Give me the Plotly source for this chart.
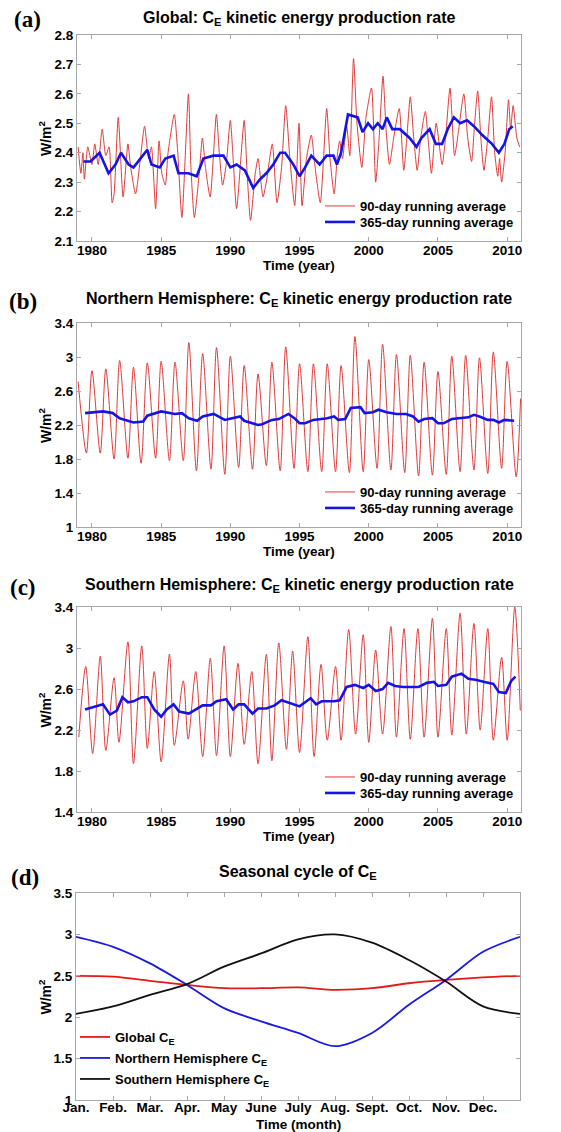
"""
C_E kinetic energy production rate: global, NH, SH and seasonal cycle
"""
import plotly.graph_objs as go

# ---- (a) Global, 90-day and 365-day running averages (W/m^2) ----
glob_t90 = [1979.0, 1979.2, 1979.35, 1979.45, 1979.7, 1980.0, 1980.2, 1980.45, 1980.74, 1981.0,
            1981.24, 1981.46, 1981.6, 1981.9, 1982.25, 1982.6, 1982.8, 1983.15, 1983.5, 1983.8,
            1984.1, 1984.3, 1984.6, 1984.85, 1985.05, 1985.3, 1985.5, 1985.95, 1986.2, 1986.5,
            1986.97, 1987.15, 1987.4, 1987.75, 1987.98, 1988.2, 1988.54, 1988.99, 1989.2, 1989.44,
            1989.7, 1990.0, 1990.2, 1990.45, 1991.0, 1991.2, 1991.46, 1991.8, 1992.0, 1992.36,
            1992.6, 1993.03, 1993.37, 1993.7, 1994.0, 1994.3, 1994.65, 1994.96, 1995.18, 1995.5,
            1995.85, 1996.1, 1996.5, 1996.96, 1997.2, 1997.5, 1997.75, 1997.9, 1998.1, 1998.4,
            1998.63, 1998.9, 1999.15, 1999.5, 1999.8, 2000.2, 2000.5, 2000.75, 2001.03, 2001.25,
            2001.5, 2001.8, 2002.2, 2002.53, 2002.75, 2003.0, 2003.25, 2003.5, 2003.75, 2004.09,
            2004.3, 2004.53, 2004.87, 2005.3, 2005.55, 2005.87, 2006.2, 2006.5, 2006.87, 2007.15,
            2007.43, 2007.65, 2007.87, 2008.1, 2008.32, 2008.6, 2008.87, 2009.1, 2009.32, 2009.45,
            2009.6, 2009.85, 2010.1, 2010.25, 2010.43, 2010.7, 2010.9]
glob_v90 = [2.42, 2.33, 2.40, 2.31, 2.42, 2.36, 2.43, 2.36, 2.48, 2.39,
            2.42, 2.23, 2.26, 2.52, 2.25, 2.43, 2.35, 2.26, 2.38, 2.49,
            2.38, 2.42, 2.21, 2.44, 2.33, 2.29, 2.40, 2.53, 2.40, 2.18,
            2.60, 2.35, 2.18, 2.33, 2.45, 2.35, 2.25, 2.53, 2.40, 2.29,
            2.36, 2.51, 2.38, 2.21, 2.51, 2.34, 2.17, 2.33, 2.38, 2.25,
            2.30, 2.43, 2.23, 2.35, 2.56, 2.38, 2.22, 2.50, 2.22, 2.38,
            2.46, 2.36, 2.23, 2.55, 2.38, 2.26, 2.40, 2.44, 2.38, 2.49,
            2.39, 2.72, 2.50, 2.35, 2.52, 2.62, 2.30, 2.45, 2.66, 2.48,
            2.36, 2.45, 2.55, 2.34, 2.45, 2.59, 2.45, 2.34, 2.45, 2.54,
            2.44, 2.33, 2.50, 2.36, 2.45, 2.62, 2.39, 2.48, 2.60, 2.45,
            2.37, 2.50, 2.61, 2.45, 2.34, 2.45, 2.59, 2.40, 2.32, 2.38,
            2.30, 2.40, 2.58, 2.48, 2.56, 2.45, 2.42]
glob_t365 = [1979.4, 1979.9, 1980.55, 1981.2, 1981.7, 1982.1, 1982.65, 1983.0, 1983.5, 1984.0,
             1984.3, 1984.9, 1985.3, 1985.9, 1986.25, 1986.97, 1987.57, 1988.05, 1988.77, 1989.5,
             1990.0, 1990.45, 1991.05, 1991.65, 1992.15, 1992.6, 1993.1, 1993.6, 1993.95, 1994.55,
             1995.0, 1995.4, 1995.85, 1996.45, 1996.95, 1997.45, 1997.7, 1998.0, 1998.5, 1999.2,
             1999.55, 1999.95, 2000.3, 2000.65, 2001.0, 2001.3, 2001.7, 2002.25, 2002.95, 2003.45,
             2003.8, 2004.4, 2004.85, 2005.3, 2005.7, 2006.15, 2006.6, 2007.1, 2007.6, 2008.2,
             2008.9, 2009.4, 2009.8, 2010.15, 2010.4]
glob_v365 = [2.37, 2.37, 2.40, 2.33, 2.36, 2.40, 2.36, 2.35, 2.38, 2.41,
             2.36, 2.35, 2.38, 2.39, 2.33, 2.33, 2.32, 2.38, 2.39, 2.39,
             2.35, 2.36, 2.34, 2.28, 2.31, 2.33, 2.36, 2.40, 2.40, 2.36,
             2.32, 2.35, 2.39, 2.36, 2.39, 2.39, 2.36, 2.40, 2.53, 2.52,
             2.47, 2.50, 2.48, 2.50, 2.48, 2.52, 2.48, 2.48, 2.45, 2.42,
             2.45, 2.48, 2.43, 2.43, 2.48, 2.52, 2.50, 2.51, 2.49, 2.46,
             2.43, 2.40, 2.43, 2.48, 2.49]

# ---- (b) Northern Hemisphere ----
nh_t90 = [1979.0, 1979.6, 1980.0, 1980.6, 1981.0, 1981.6, 1982.0, 1982.6, 1983.0, 1983.55,
          1984.0, 1984.6, 1985.0, 1985.6, 1986.0, 1986.6, 1987.0, 1987.55, 1988.0, 1988.6,
          1989.0, 1989.6, 1990.0, 1990.6, 1991.0, 1991.6, 1992.0, 1992.6, 1993.0, 1993.6,
          1994.0, 1994.6, 1995.0, 1995.6, 1996.0, 1996.6, 1997.0, 1997.6, 1998.0, 1998.6,
          1999.0, 1999.6, 2000.0, 2000.6, 2001.0, 2001.6, 2002.0, 2002.6, 2003.0, 2003.6,
          2004.0, 2004.6, 2005.0, 2005.6, 2006.0, 2006.6, 2007.0, 2007.6, 2008.0, 2008.6,
          2009.0, 2009.6, 2010.0, 2010.65, 2010.97]
nh_v90 = [2.71, 1.87, 2.84, 1.87, 2.86, 1.80, 2.96, 1.81, 2.88, 1.75,
          2.93, 1.81, 2.95, 1.78, 2.94, 1.78, 3.17, 1.66, 3.04, 1.68,
          3.11, 1.62, 3.01, 1.70, 2.90, 1.68, 2.80, 1.72, 2.94, 1.66,
          3.12, 1.69, 2.92, 1.65, 2.92, 1.65, 2.92, 1.65, 2.90, 1.64,
          3.24, 1.65, 2.97, 1.69, 3.15, 1.67, 3.03, 1.64, 3.02, 1.60,
          2.94, 1.61, 2.83, 1.62, 3.01, 1.65, 3.02, 1.67, 2.99, 1.63,
          3.06, 1.69, 2.95, 1.59, 2.51]
nh_t365 = [1979.5, 1980.2, 1980.8, 1981.5, 1982.0, 1983.0, 1983.7, 1984.0, 1985.0, 1986.0,
           1986.5, 1987.0, 1987.6, 1988.0, 1988.8, 1989.6, 1990.3, 1990.7, 1991.0, 1992.0,
           1992.3, 1993.0, 1993.5, 1994.2, 1994.7, 1995.0, 1995.4, 1996.0, 1997.0, 1997.5,
           1997.8, 1998.3, 1998.7, 1999.4, 1999.7, 2000.3, 2000.7, 2001.3, 2002.0, 2002.7,
           2003.2, 2003.6, 2004.0, 2004.6, 2005.0, 2005.4, 2006.0, 2006.7, 2007.2, 2007.6,
           2008.0, 2008.6, 2009.0, 2009.4, 2009.8, 2010.5]
nh_v365 = [2.34, 2.35, 2.36, 2.34, 2.28, 2.23, 2.24, 2.31, 2.36, 2.33,
           2.34, 2.28, 2.25, 2.30, 2.33, 2.26, 2.29, 2.30, 2.25, 2.20,
           2.21, 2.26, 2.27, 2.33, 2.27, 2.22, 2.22, 2.26, 2.28, 2.30,
           2.26, 2.27, 2.40, 2.41, 2.34, 2.35, 2.38, 2.35, 2.33, 2.33,
           2.30, 2.24, 2.27, 2.28, 2.22, 2.22, 2.27, 2.28, 2.29, 2.32,
           2.30, 2.26, 2.26, 2.23, 2.26, 2.25]

# ---- (c) Southern Hemisphere ----
sh_t90 = [1979.05, 1979.55, 1980.05, 1980.6, 1981.0, 1981.6, 1981.95, 1982.6, 1983.0, 1983.6,
          1984.0, 1984.5, 1985.0, 1985.6, 1985.95, 1986.6, 1986.95, 1987.5, 1988.0, 1988.55,
          1989.0, 1989.55, 1990.0, 1990.55, 1991.0, 1991.55, 1992.0, 1992.6, 1993.0, 1993.5,
          1994.05, 1994.5, 1995.0, 1995.6, 1996.05, 1996.55, 1997.0, 1997.6, 1998.0, 1998.55,
          1999.05, 1999.6, 2000.0, 2000.5, 2001.0, 2001.6, 2002.0, 2002.55, 2003.0, 2003.55,
          2004.0, 2004.6, 2005.0, 2005.6, 2006.0, 2006.6, 2007.05, 2007.6, 2008.05, 2008.6,
          2009.0, 2009.6, 2010.0, 2010.55, 2010.95]
sh_v90 = [2.13, 2.82, 1.97, 2.92, 2.00, 2.71, 2.08, 3.06, 1.87, 3.02,
          2.02, 2.77, 1.89, 2.94, 2.05, 2.68, 2.11, 2.77, 1.94, 2.90,
          1.95, 3.02, 1.94, 2.85, 2.06, 2.77, 1.87, 2.94, 1.90, 3.05,
          2.01, 2.97, 1.98, 3.11, 1.94, 2.84, 2.10, 2.82, 2.10, 3.18,
          2.16, 3.13, 2.08, 2.98, 2.16, 3.21, 2.13, 3.19, 2.11, 3.19,
          2.13, 3.29, 2.13, 3.19, 2.15, 3.34, 2.16, 3.24, 2.20, 3.19,
          2.10, 2.91, 2.10, 3.40, 2.39]
sh_t365 = [1979.5, 1980.3, 1980.8, 1981.3, 1981.8, 1982.2, 1982.6, 1983.0, 1983.6, 1984.0,
           1984.5, 1985.0, 1985.4, 1985.9, 1986.3, 1987.0, 1987.5, 1988.0, 1988.6, 1989.0,
           1989.7, 1990.2, 1990.6, 1991.0, 1991.6, 1992.0, 1992.6, 1993.2, 1993.7, 1994.3,
           1995.0, 1995.5, 1995.8, 1996.2, 1996.6, 1997.5, 1997.9, 1998.4, 1999.0, 1999.6,
           2000.0, 2000.5, 2001.0, 2001.4, 2001.9, 2002.5, 2003.0, 2003.6, 2004.2, 2004.7,
           2005.0, 2005.6, 2006.0, 2006.7, 2007.2, 2007.7, 2008.3, 2009.0, 2009.4, 2009.9,
           2010.3, 2010.6]
sh_v365 = [2.40, 2.43, 2.45, 2.35, 2.39, 2.52, 2.47, 2.48, 2.52, 2.52,
           2.40, 2.33, 2.40, 2.45, 2.38, 2.36, 2.40, 2.44, 2.44, 2.48,
           2.50, 2.40, 2.45, 2.45, 2.36, 2.41, 2.41, 2.44, 2.49, 2.46,
           2.43, 2.48, 2.51, 2.45, 2.48, 2.48, 2.49, 2.62, 2.64, 2.61,
           2.64, 2.58, 2.60, 2.66, 2.63, 2.62, 2.62, 2.62, 2.66, 2.67,
           2.63, 2.64, 2.72, 2.75, 2.70, 2.69, 2.67, 2.65, 2.57, 2.56,
           2.68, 2.72]

# ---- (d) Seasonal cycle ----
month_pos = [1, 2, 3, 4, 5, 6, 7, 8, 9, 10, 11, 12, 13]
season_glob = [2.50, 2.49, 2.44, 2.39, 2.35, 2.35, 2.36, 2.33, 2.35, 2.41, 2.45, 2.48, 2.50]
season_nh = [2.97, 2.85, 2.65, 2.39, 2.11, 1.95, 1.81, 1.65, 1.81, 2.15, 2.45, 2.79, 2.97]
season_sh = [2.04, 2.13, 2.27, 2.40, 2.61, 2.77, 2.94, 3.00, 2.90, 2.69, 2.43, 2.13, 2.04]
month_labels = ['Jan.', 'Feb.', 'Mar.', 'Apr.', 'May', 'June', 'July', 'Aug.',
                'Sept.', 'Oct.', 'Nov.', 'Dec.']

year_ticks = [1980, 1985, 1990, 1995, 2000, 2005, 2010]

# ---- styling ----
FONT = 'Liberation Sans'
RED90 = '#e23a3a'
BLUE = '#1414e6'
AXIS_GRAY = '#a8a8a8'

# the page body has an 8px margin, so the figure is placed at (8, 8)
OFF = 8
W, H = 561 - OFF, 1132 - OFF


def px_x(x):
    # page pixel -> paper fraction
    return (x - OFF) / W


def px_y(y):
    return 1 - (y - OFF) / H


# plot area boxes in page pixels: (left, top, right, bottom)
boxes = [(77, 35, 521, 241), (77, 323, 521, 527), (77, 607, 521, 812), (76, 893, 520, 1100)]

fig = go.Figure()
legend_rows = []   # (legend key, text left px, row centre px)

series = [(glob_t90, glob_v90, glob_t365, glob_v365),
          (nh_t90, nh_v90, nh_t365, nh_v365),
          (sh_t90, sh_v90, sh_t365, sh_v365)]
smooth90 = [0.6, 0.8, 0.8]

n_leg = 0
for i, (t90, v90, t365, v365) in enumerate(series):
    ax = '' if i == 0 else str(i + 1)
    b = boxes[i][3]
    for name, x, y, line, row in [
            ('90-day running average', t90, v90,
             dict(color=RED90, width=1, shape='spline', smoothing=smooth90[i]), b - 35),
            ('365-day running average', t365, v365,
             dict(color=BLUE, width=2.6), b - 19)]:
        n_leg += 1
        key = 'legend' if n_leg == 1 else 'legend' + str(n_leg)
        fig.add_trace(go.Scatter(x=x, y=y, mode='lines', name=name, line=line,
                                 xaxis='x' + ax, yaxis='y' + ax, legend=key))
        legend_rows.append((key, 360, row))

season = [(season_glob, '#e41a1a', 'Global C<sub>E</sub>', 1037),
          (season_nh, '#1a1ae0', 'Northern Hemisphere C<sub>E</sub>', 1058),
          (season_sh, '#111111', 'Southern Hemisphere C<sub>E</sub>', 1079)]
for vals, col, name, row in season:
    n_leg += 1
    key = 'legend' + str(n_leg)
    fig.add_trace(go.Scatter(
        x=month_pos, y=vals, mode='lines', name=name,
        line=dict(color=col, width=1.8, shape='spline', smoothing=0.9),
        xaxis='x4', yaxis='y4', legend=key))
    legend_rows.append((key, 115, row))

axis_common = dict(showline=True, linecolor=AXIS_GRAY, linewidth=1, mirror='ticks',
                   ticks='inside', ticklen=4, tickcolor=AXIS_GRAY, showgrid=False,
                   zeroline=False, automargin=False,
                   tickfont=dict(family=FONT, size=13.5, color='black', weight='bold'))

y_ranges = [(2.1, 2.8, 0.1), (1.0, 3.4, 0.4), (1.4, 3.4, 0.4), (1.0, 3.5, 0.5)]

layout = dict(width=W, height=H, margin=dict(l=0, r=0, t=0, b=0),
              paper_bgcolor='white', plot_bgcolor='white', showlegend=True,
              font=dict(family=FONT, color='black'))

for i, (l, t, r, b) in enumerate(boxes):
    ax = '' if i == 0 else str(i + 1)
    lo, hi, step = y_ranges[i]
    yvals = [round(lo + k * step, 2) for k in range(int(round((hi - lo) / step)) + 1)]
    ytext = [('%g' % v) for v in yvals]
    if i < 3:
        xa = dict(axis_common, domain=[px_x(l), px_x(r)], range=[1978.92, 2011.0],
                  tickvals=year_ticks, ticktext=[str(y) for y in year_ticks],
                  anchor='y' + ax, ticklabelstandoff=-3)
    else:
        xa = dict(axis_common, domain=[px_x(l), px_x(r)], range=[1, 13],
                  tickvals=month_pos[:12], ticktext=month_labels, anchor='y4',
                  ticklabelstandoff=-5)
    ya = dict(axis_common, domain=[px_y(b), px_y(t)], range=[lo, hi],
              tickvals=yvals, ticktext=ytext, anchor='x' + ax)
    layout['xaxis' + ax] = xa
    layout['yaxis' + ax] = ya

# one legend per entry, so each row sits where the reference has it
leg_font = dict(family=FONT, size=13, color='black', weight='bold')
for key, text_left, row in legend_rows:
    layout[key] = dict(x=px_x(text_left - 40), y=px_y(row), xanchor='left', yanchor='middle',
                       bgcolor='rgba(0,0,0,0)', borderwidth=0, font=leg_font,
                       itemwidth=30, tracegroupgap=0)

fig.update_layout(**layout)

# titles, panel letters and axis titles
titles = ['Global: C<sub>E</sub> kinetic energy production rate',
          'Northern Hemisphere: C<sub>E</sub> kinetic energy production rate',
          'Southern Hemisphere: C<sub>E</sub> kinetic energy production rate',
          'Seasonal cycle of C<sub>E</sub>']
title_y = [18, 300, 585, 872]
letters = ['(a)', '(b)', '(c)', '(d)']
letter_pos = [(27, 20), (23, 301), (23, 587), (25, 877)]
xtitles = ['Time (year)', 'Time (year)', 'Time (year)', 'Time (month)']
xtitle_y = [265, 551, 836, 1124]

for i, (l, t, r, b) in enumerate(boxes):
    fig.add_annotation(text=titles[i], x=px_x((l + r) / 2), y=px_y(title_y[i]),
                       xref='paper', yref='paper', showarrow=False,
                       xanchor='center', yanchor='middle',
                       font=dict(family=FONT, size=16, weight='bold'))
    fig.add_annotation(text=letters[i], x=px_x(letter_pos[i][0]), y=px_y(letter_pos[i][1]),
                       xref='paper', yref='paper', showarrow=False,
                       xanchor='center', yanchor='middle',
                       font=dict(family='Liberation Serif', size=23, weight='bold'))
    fig.add_annotation(text=xtitles[i], x=px_x((l + r) / 2), y=px_y(xtitle_y[i]),
                       xref='paper', yref='paper', showarrow=False,
                       xanchor='center', yanchor='middle',
                       font=dict(family=FONT, size=13.5, weight='bold'))
    fig.add_annotation(text='W/m<sup>2</sup>', x=px_x(45), y=px_y((t + b) / 2),
                       xref='paper', yref='paper', showarrow=False, textangle=-90,
                       xanchor='center', yanchor='middle',
                       font=dict(family=FONT, size=14, weight='bold'))

fig.write_html("out.html")
